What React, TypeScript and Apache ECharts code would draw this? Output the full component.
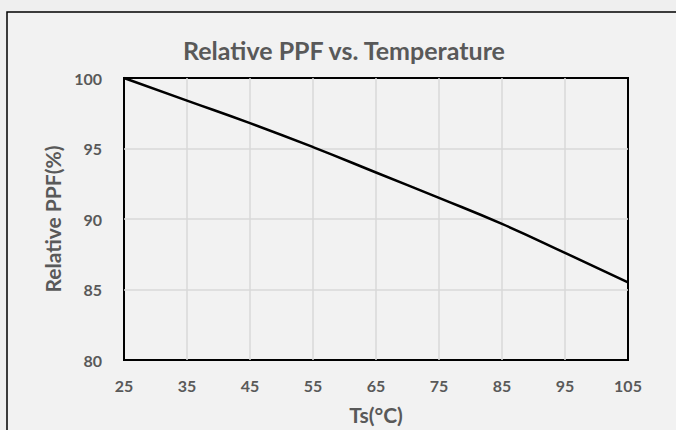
import React, { useEffect, useRef } from "react";
import * as echarts from "echarts";

const temperatures = ["25", "35", "45", "55", "65", "75", "85", "95", "105"];
const relativePPF = [100, 98.4, 96.8, 95.1, 93.3, 91.5, 89.65, 87.6, 85.5];
const yTicks = { min: 80, max: 100, interval: 5 };

const TEXT = "#595959";
const FONT = "Lato";

export default function App() {
  const ref = useRef<HTMLDivElement>(null);
  useEffect(() => {
    const el = ref.current!;
    const chart = echarts.init(el, null, { renderer: "svg" });
    chart.setOption({
      animation: false,
      backgroundColor: "#efefef",
      graphic: [
        {
          type: "rect",
          z: -10,
          shape: { x: 7, y: 12, width: 700, height: 500 },
          style: { fill: "#f2f2f2", stroke: "#000", lineWidth: 1.5 },
          silent: true,
        },
      ],
      title: {
        text: "Relative PPF vs. Temperature",
        left: 178,
        top: 32,
        textStyle: { color: TEXT, fontFamily: FONT, fontWeight: "bold", fontSize: 25 },
      },
      grid: {
        show: true,
        left: 124,
        right: 48,
        top: 78,
        bottom: 68,
        borderColor: "#000",
        borderWidth: 2,
        backgroundColor: "transparent",
      },
      xAxis: {
        type: "category",
        data: temperatures,
        boundaryGap: false,
        name: "Ts(°C)",
        nameLocation: "middle",
        nameGap: 44,
        nameTextStyle: { color: TEXT, fontFamily: FONT, fontWeight: "bold", fontSize: 21 },
        axisLine: { show: false },
        axisTick: { show: false },
        axisLabel: { color: TEXT, fontFamily: FONT, fontWeight: "bold", fontSize: 16, margin: 17 },
        splitLine: {
          show: true,
          showMinLine: false,
          showMaxLine: false,
          lineStyle: { color: "#d9d9d9", width: 1.5 },
        },
      },
      yAxis: {
        type: "value",
        min: yTicks.min,
        max: yTicks.max,
        interval: yTicks.interval,
        name: "Relative PPF(%)",
        nameLocation: "middle",
        nameGap: 60,
        nameTextStyle: { color: TEXT, fontFamily: FONT, fontWeight: "bold", fontSize: 21 },
        axisLine: { show: false },
        axisTick: { show: false },
        axisLabel: { color: TEXT, fontFamily: FONT, fontWeight: "bold", fontSize: 16, margin: 22 },
        splitLine: {
          show: true,
          showMinLine: false,
          showMaxLine: false,
          lineStyle: { color: "#d9d9d9", width: 1.5 },
        },
      },
      series: [
        {
          type: "line",
          data: relativePPF,
          smooth: true,
          symbol: "none",
          lineStyle: { color: "#000", width: 2.5 },
        },
      ],
    });
    return () => chart.dispose();
  }, []);
  return (
    <div
      ref={ref}
      style={{ position: "absolute", left: 0, top: 0, width: 676, height: 430 }}
    />
  );
}
